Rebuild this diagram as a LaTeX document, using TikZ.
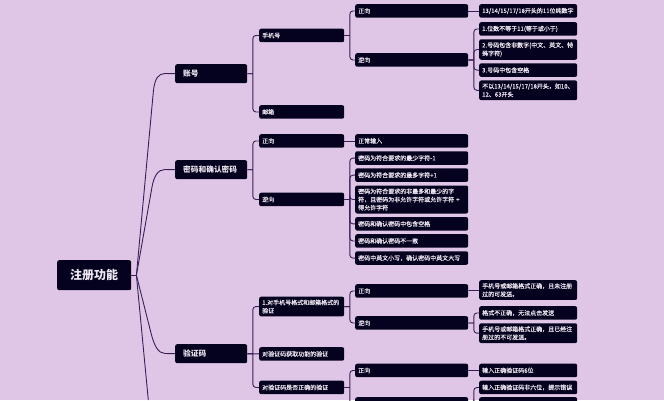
\documentclass[tikz,border=0pt]{standalone}
\usepackage{fontspec}
\setmainfont{Noto Sans CJK SC}[UprightFeatures={FakeBold=0.15}]
\usetikzlibrary{positioning}
\definecolor{pagebg}{HTML}{E0C6E6}
\definecolor{boxfill}{HTML}{05021F}
\definecolor{boxtext}{HTML}{EFE8F2}
\definecolor{linkcol}{HTML}{3A1F57}
\tikzset{
 box/.style={fill=boxfill,text=boxtext,rounded corners=2pt,anchor=north west,align=left,inner ysep=3pt},
 leaf/.style={box,font=\fontsize{6}{8.2}\selectfont,text width=92pt,inner xsep=3pt,minimum height=13.5pt},
 branch/.style={box,font=\fontsize{6}{8.2}\selectfont,text width=107pt,inner xsep=3pt,minimum height=13.5pt},
 sub/.style={box,font=\fontsize{6}{8.2}\selectfont,text width=79pt,inner xsep=3pt,minimum height=13.5pt},
 topic/.style={box,font=\fontsize{7.7}{9}\selectfont\bfseries,text width=56pt,inner xsep=8pt,minimum height=19pt},
 link/.style={draw=linkcol,line width=0.9pt}
}
\begin{document}
\begin{tikzpicture}[x=1pt,y=-1pt,node distance=3.2pt]
 \path[use as bounding box,clip] (0,0) rectangle (664,400);
 \fill[pagebg] (0,0) rectangle (664,400);

 \node[box,font=\fontsize{12}{14}\selectfont\bfseries,minimum width=74pt,minimum height=30pt,align=center] (root) at (57,260) {注册功能};
 \node[topic] (acct) at (175,64) {账号};
 \node[topic] (pwd) at (175,160) {密码和确认密码};
 \node[topic] (code) at (175,344) {验证码};
 \coordinate (rest) at (148.3,400);

 \node[sub] (phone) at (259,28.5) {手机号};
 \node[sub] (mail) at (259,105) {邮箱};
 \node[sub] (pwd_pos) at (259,134) {正向};
 \node[sub] (pwd_neg) at (259,192.5) {逆向};
 \node[sub] (fmt) at (259,296.5) {1.对手机号格式和邮箱格式的\\验证};
 \node[sub] (get) at (259,347) {对验证码获取功能的验证};
 \node[sub] (chk) at (259,380.5) {对验证码是否正确的验证};

 \node[branch] (phone_pos) at (355,4) {正向};
 \node[branch] (phone_neg) at (355,53) {逆向};
 \node[branch] (p_0) at (355,134) {正常输入};
 \node[branch] (p_1) [below=of p_0] {密码为符合要求的最少字符-1};
 \node[branch] (p_2) [below=of p_1] {密码为符合要求的最多字符+1};
 \node[branch] (p_3) [below=of p_2] {密码为符合要求的非最多和最少的字\\符，且密码为非允许字符或允许字符 +\\得允许字符};
 \node[branch] (p_4) [below=of p_3] {密码和确认密码中包含空格};
 \node[branch] (p_5) [below=of p_4] {密码和确认密码不一致};
 \node[branch] (p_6) [below=of p_5] {密码中英文小写，确认密码中英文大写};
 \node[branch] (fmt_pos) at (355,284) {正向};
 \node[branch] (fmt_neg) at (355,316) {逆向};
 \node[branch] (chk_pos) at (355,363.5) {正向};
 \node[branch] (chk_neg) at (355,397) {};

 \node[leaf] (n_0) at (479,4) {13/14/15/17/18开头的11位纯数字};
 \node[leaf] (n_1) at (479,22) {1.位数不等于11(等于或小于)};
 \node[leaf] (n_2) [below=of n_1] {2.号码包含非数字(中文、英文、特\\殊字符)};
 \node[leaf] (n_3) [below=of n_2] {3.号码中包含空格};
 \node[leaf] (n_4) [below=of n_3] {不以13/14/15/17/18开头，如10、\\12、63开头};
 \node[leaf] (f_0) at (479,280) {手机号或邮箱格式正确，且未注册\\过的可发送。};
 \node[leaf] (f_1) at (479,306) {格式不正确，无法点击发送};
 \node[leaf] (f_2) [below=of f_1] {手机号或邮箱格式正确，且已经注\\册过的不可发送。};
 \node[leaf] (c_0) at (479,363.5) {输入正确验证码6位};
 \node[leaf] (c_1) at (479,380.5) {输入正确验证码非六位，提示错误};
 \node[leaf] (c_2) at (479,397) {};

 % root to the topics
 \draw[link] (root.east) -- ++(5,0) coordinate (fork);
 \draw[link] (fork) -- (153.5,90) .. controls (155,79) and (158,73.5) .. (165,73.5) -- (acct.west);
 \draw[link] (fork) -- (152,187) .. controls (154,176) and (158,169.5) .. (165,169.5) -- (pwd.west);
 \draw[link] (fork) -- (151,333) .. controls (154,345) and (158,353.5) .. (165,353.5) -- (code.west);
 \draw[link] (fork) -- (rest);

 % straight ones
 \foreach \from/\to in {code/get,pwd_pos/p_0,phone_pos/n_0,fmt_pos/f_0,chk_pos/c_0}
  \draw[link] (\from) -- (\to);

 % the forks further right
 \foreach \from/\to in {acct/phone,acct/mail,pwd/pwd_pos,pwd/pwd_neg,code/fmt,code/chk,
   phone/phone_pos,phone/phone_neg,pwd_neg/p_1,pwd_neg/p_2,pwd_neg/p_3,pwd_neg/p_4,pwd_neg/p_5,pwd_neg/p_6,
   fmt/fmt_pos,fmt/fmt_neg,chk/chk_pos,chk/chk_neg,
   phone_neg/n_1,phone_neg/n_2,phone_neg/n_3,phone_neg/n_4,
   fmt_neg/f_1,fmt_neg/f_2,chk_neg/c_1,chk_neg/c_2}
  \draw[link] (\from.east) -- ++(5.5,0) (\from.east) ++(5.5,0) [rounded corners=3pt] |- (\to.west);
\end{tikzpicture}
\end{document}
